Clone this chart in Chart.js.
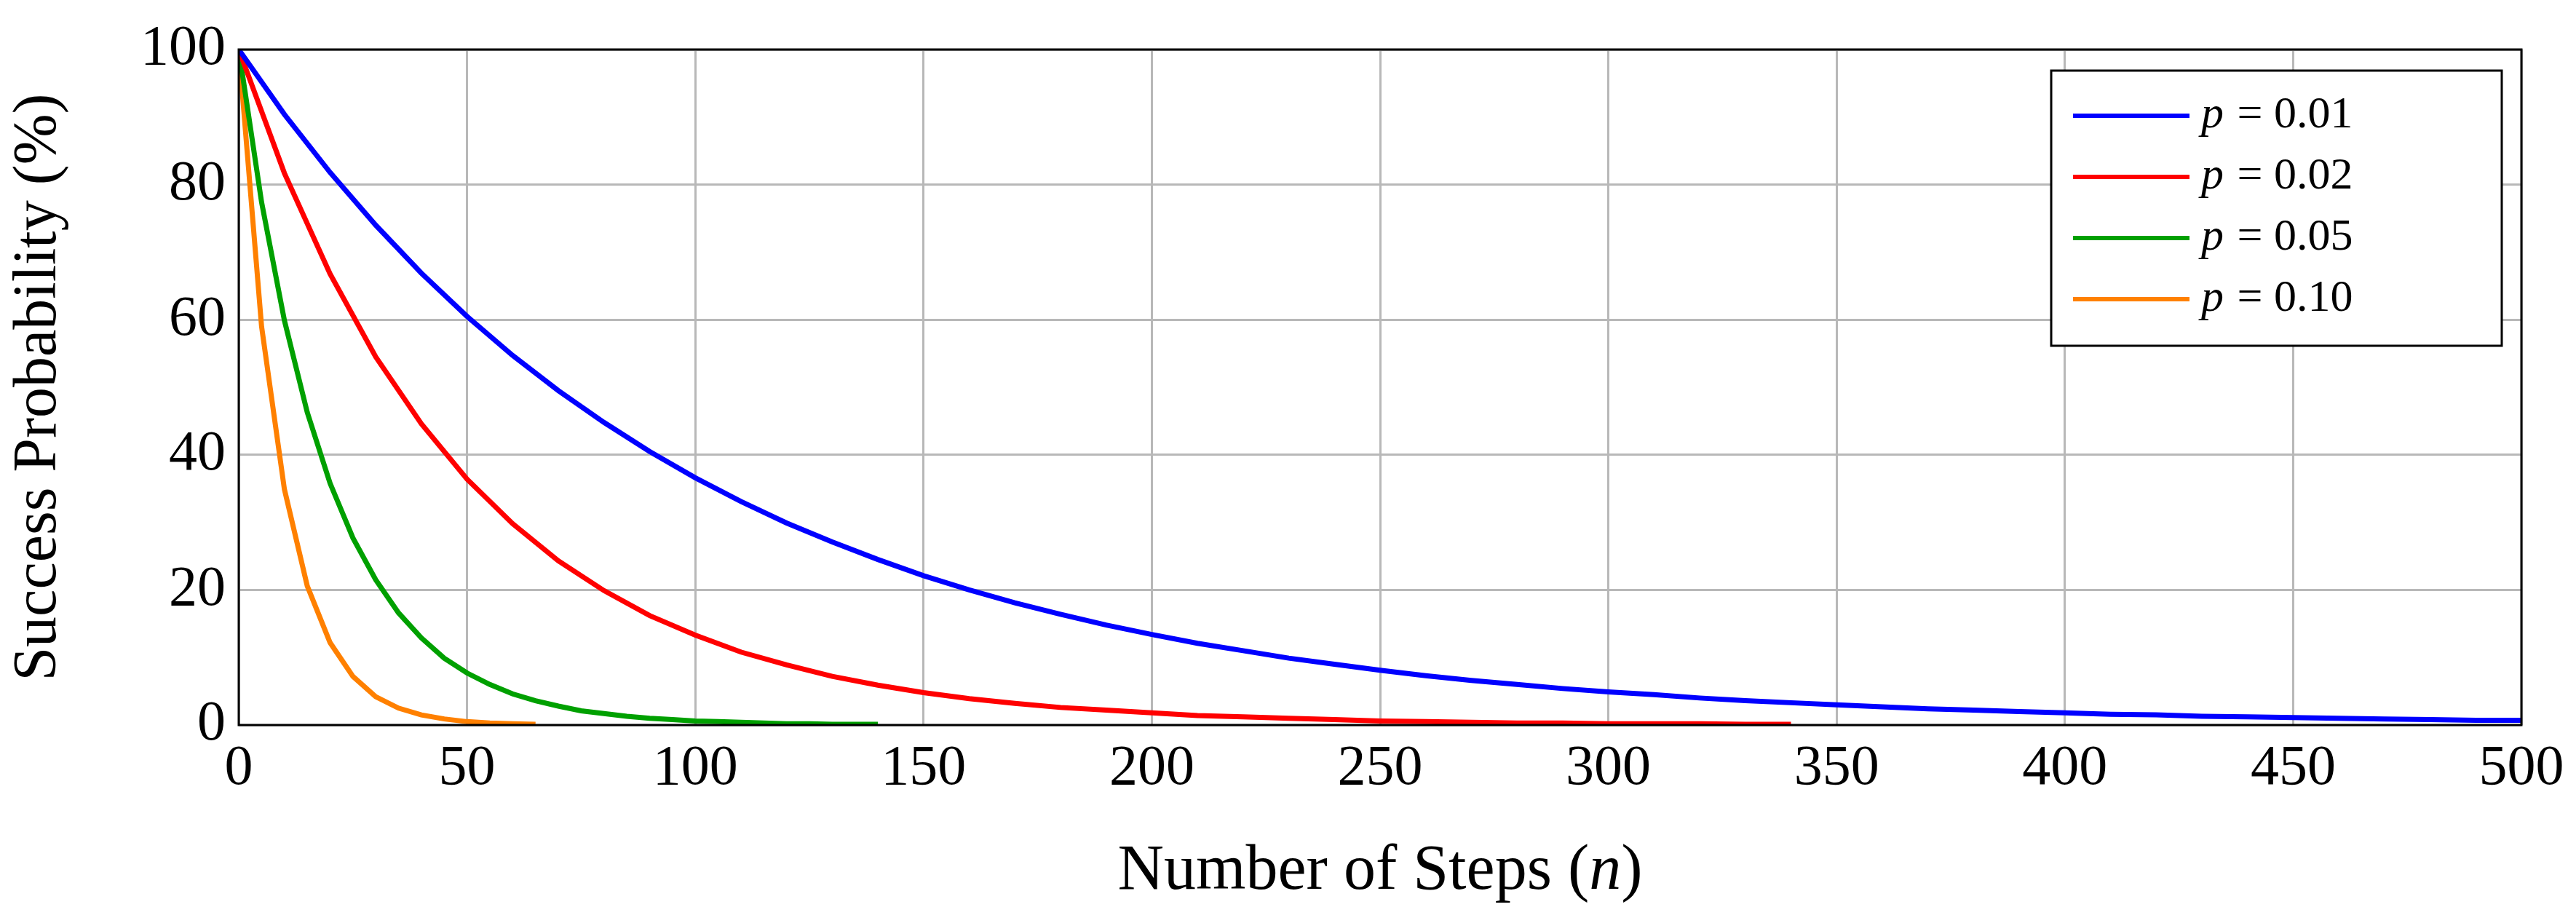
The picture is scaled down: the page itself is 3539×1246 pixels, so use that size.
<!DOCTYPE html>
<html><head><meta charset="utf-8">
<script src="https://cdn.jsdelivr.net/npm/chart.js@4"></script>
<style>html,body{margin:0;padding:0;background:#fff}#w{width:3539px;height:1246px}</style>
</head><body><div id="w"><canvas id="c"></canvas></div>
<script>
const xTicks=[0,50,100,150,200,250,300,350,400,450,500];
const yTicks=[0,20,40,60,80,100];
const labels=["p = 0.01","p = 0.02","p = 0.05","p = 0.10"];
const colors=["#0000ff","#ff0000","#00a000","#ff8000"];
const step01=10, step02=10, step05=5, step10=5;
const vals01=[100,90.4,81.8,74.0,66.9,60.5,54.7,49.5,44.8,40.5,36.6,33.1,29.9,27.1,24.5,22.1,20.0,18.1,16.4,14.8,13.4,12.1,11.0,9.9,9.0,8.1,7.3,6.6,6.0,5.4,4.9,4.5,4.0,3.6,3.3,3.0,2.7,2.4,2.2,2.0,1.8,1.6,1.5,1.3,1.2,1.1,1.0,0.9,0.8,0.7,0.7];
const vals02=[100,81.7,66.8,54.5,44.6,36.4,29.8,24.3,19.9,16.2,13.3,10.8,8.9,7.2,5.9,4.8,3.9,3.2,2.6,2.2,1.8,1.4,1.2,1.0,0.8,0.6,0.5,0.4,0.3,0.3,0.2,0.2,0.2,0.1,0.1];
const vals05=[100,77.4,59.9,46.3,35.8,27.7,21.5,16.6,12.9,9.9,7.7,6.0,4.6,3.6,2.8,2.1,1.7,1.3,1.0,0.8,0.6,0.5,0.4,0.3,0.2,0.2,0.1,0.1,0.1];
const vals10=[100,59.0,34.9,20.6,12.2,7.2,4.2,2.5,1.5,0.9,0.5,0.3,0.2,0.1];
const series=[[vals01,step01],[vals02,step02],[vals05,step05],[vals10,step10]];
const FONT="'Liberation Serif','DejaVu Serif',serif";
const frame={id:'frame',afterDraw(ch){const a=ch.chartArea,c=ch.ctx;c.save();c.strokeStyle='#000';c.lineWidth=3;c.strokeRect(a.left,a.top,a.right-a.left,a.bottom-a.top);
 const L=2818,T=97,W=619,H=378;c.fillStyle='#fff';c.fillRect(L,T,W,H);c.strokeRect(L,T,W,H);
 ch.data.datasets.forEach((d,i)=>{const y=T+62+i*84;c.strokeStyle=d.borderColor;c.lineWidth=6;c.beginPath();c.moveTo(L+30,y);c.lineTo(L+190,y);c.stroke();
  c.fillStyle='#000';c.textBaseline='middle';c.font="italic 62px "+FONT;c.fillText('p',L+192+14,y);c.font="62px "+FONT;c.fillText(' = '+d.label.split('= ')[1],L+240,y);});
 // x title with italic n
 const cx=(a.left+a.right)/2, ty=1242;c.fillStyle='#000';c.textBaseline='bottom';
 const p1='Number of Steps (',p2='n',p3=')';c.font="88px "+FONT;const w1=c.measureText(p1).width,w3=c.measureText(p3).width;
 c.font="italic 88px "+FONT;const w2=c.measureText(p2).width;let x=cx-(w1+w2+w3)/2;
 c.font="88px "+FONT;c.fillText(p1,x,ty);x+=w1;c.font="italic 88px "+FONT;c.fillText(p2,x,ty);x+=w2;c.font="88px "+FONT;c.fillText(p3,x,ty);
 c.restore();}};
new Chart(document.getElementById('c'),{type:'line',
 data:{datasets:series.map((s,i)=>({label:labels[i],borderColor:colors[i],borderWidth:7,pointRadius:0,fill:false,tension:0,
   data:s[0].map((v,k)=>({x:k*s[1],y:v}))}))},
 options:{responsive:true,maintainAspectRatio:false,animation:false,
  layout:{padding:{top:68,right:75,left:0,bottom:0}},
  plugins:{legend:{display:false},tooltip:{enabled:false}},
  scales:{
   x:{type:'linear',min:0,max:500,afterBuildTicks(s){s.ticks=xTicks.map(v=>({value:v}));},
     afterFit(s){s.height=250;},
     grid:{color:'#b8b8b8',lineWidth:3,drawTicks:false},border:{display:false},
     ticks:{color:'#000',font:{family:FONT,size:78},padding:14,maxRotation:0}},
   y:{min:0,max:100,afterBuildTicks(s){s.ticks=yTicks.map(v=>({value:v}));},
     afterFit(s){s.width=328;},
     grid:{color:'#b8b8b8',lineWidth:3,drawTicks:false},border:{display:false},
     ticks:{color:'#000',font:{family:FONT,size:78},padding:18},
     title:{display:true,text:'Success Probability (%)',color:'#000',font:{family:FONT,size:84},padding:{bottom:14}}}}},
 plugins:[frame]});
</script></body></html>
